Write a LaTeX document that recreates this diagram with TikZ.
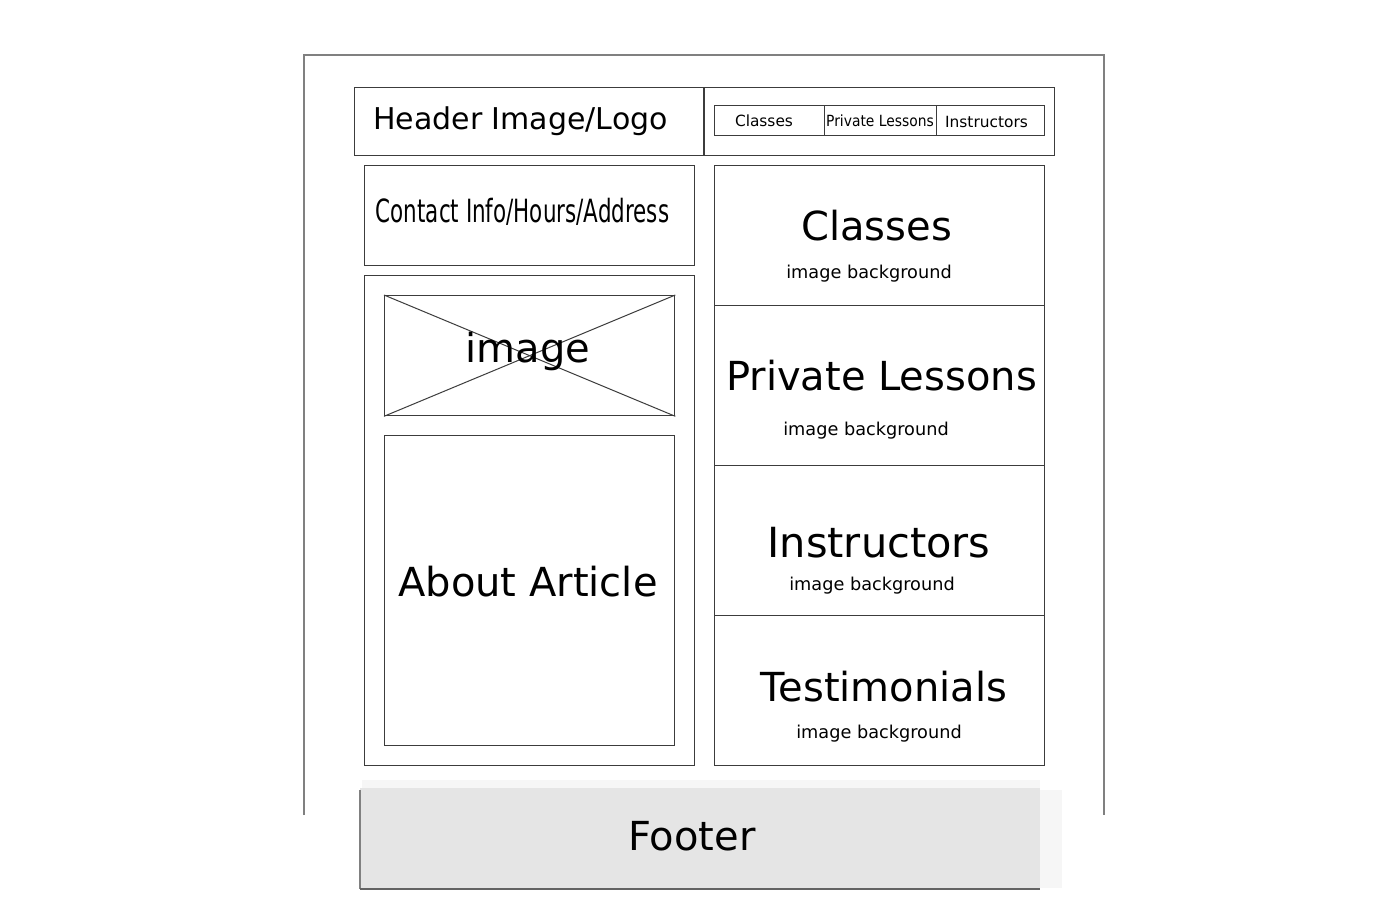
\documentclass[tikz,border=0pt]{standalone}
\usepackage{fontspec}
\setmainfont{DejaVu Sans}
\usetikzlibrary{positioning}
\definecolor{frameline}{HTML}{808080}
\definecolor{boxline}{HTML}{3C3C3C}
\definecolor{footfill}{HTML}{E5E5E5}
\definecolor{footshade}{HTML}{F6F6F6}
\newcommand{\fsz}[1]{\fontsize{#1}{#1}\selectfont}
\tikzset{
  box/.style={draw=boxline, line width=1.3pt, rectangle, inner sep=0pt, anchor=north west},
  lbl/.style={anchor=base, inner sep=0pt, text=black},
  big/.style={lbl, font=\fsz{40}},
  small/.style={lbl, font=\fsz{17.7}},
  navtxt/.style={lbl, font=\fsz{15.4}},
}
\begin{document}
\begin{tikzpicture}[x=1pt, y=-1pt]
\useasboundingbox (0,0) rectangle (1400,900);
\fill[white] (0,0) rectangle (1400,900);

% page frame, open at the bottom
\coordinate (fbl) at (304,815);
\coordinate (ftl) at (304,55);
\coordinate (ftr) at (1104,55);
\coordinate (fbr) at (1104,815);
\draw[frameline, line width=1.3pt] (fbl) -- (ftl) -- (ftr) -- (fbr);

% header bar
\node[box, minimum width=700pt, minimum height=68pt] (hdr) at (354,87) {};
\coordinate (hdrtop) at (704,87);
\coordinate (hdrbot) at (704,155);
\draw[boxline, line width=1.3pt] (hdrtop) -- (hdrbot);
\node[lbl, font=\fsz{30}] (logo) at (520.5,129.5) {Header Image/Logo};

% navigation tabs
\node[box, minimum width=110pt, minimum height=30pt] (nav1) at (714,105) {};
\node[box, minimum width=112pt, minimum height=30pt] (nav2) at (824,105) {};
\node[box, minimum width=108pt, minimum height=30pt] (nav3) at (936,105) {};
\node[navtxt] (nav1t) at (764,126.5) {Classes};
\node[navtxt] (nav2t) at (880,126) {\scalebox{0.9}[1]{Private Lessons}};
\node[navtxt] (nav3t) at (986.5,127.5) {Instructors};

% left column
\node[box, minimum width=330pt, minimum height=100pt] (contact) at (364,165) {};
\node[lbl, font=\fsz{32}] (contactt) at (522.5,222) {\scalebox{0.67}[1]{Contact Info/Hours/Address}};
\node[box, minimum width=330pt, minimum height=490pt] (leftcol) at (364,275) {};
\node[box, minimum width=290pt, minimum height=120pt] (img) at (384,295) {};
\draw[boxline, line width=1pt] (img.north west) -- (img.south east);
\draw[boxline, line width=1pt] (img.south west) -- (img.north east);
\node[big] (imgt) at (528,362.5) {image};
\node[box, minimum width=290pt, minimum height=310pt] (about) at (384,435) {};
\node[big] (aboutt) at (528,596) {About Article};

% right column of feature panels
\node[box, minimum width=330pt, minimum height=140pt] (p1) at (714,165) {};
\node[box, minimum width=330pt, minimum height=160pt] (p2) at (714,305) {};
\node[box, minimum width=330pt, minimum height=150pt] (p3) at (714,465) {};
\node[box, minimum width=330pt, minimum height=150pt] (p4) at (714,615) {};
\node[big] (p1t) at (876.5,240) {Classes};
\node[small] (p1s) at (869,278.5) {image background};
\node[big] (p2t) at (881.5,390) {Private Lessons};
\node[small] (p2s) at (866,435.5) {image background};
\node[big, font=\fsz{41.5}] (p3t) at (879,557) {Instructors};
\node[small] (p3s) at (872,590.5) {image background};
\node[big] (p4t) at (884,701.5) {Testimonials};
\node[small] (p4s) at (879,738.5) {image background};

% footer with soft shading
\fill[footshade] (362,780) rectangle (1040,788);
\fill[footshade] (1040,790) rectangle (1062,888);
\node[anchor=north west, fill=footfill, inner sep=0pt, minimum width=680pt, minimum height=100pt] (footer) at (360,788) {};
\coordinate (ftl2) at (360,790);
\coordinate (fbl2) at (360,889);
\coordinate (fbr2) at (1040,889);
\draw[frameline, line width=1.2pt] (ftl2) -- (fbl2);
\draw[boxline!80, line width=1.4pt] (fbl2) -- (fbr2);
\node[big] (footert) at (692,850) {Footer};
\end{tikzpicture}
\end{document}
